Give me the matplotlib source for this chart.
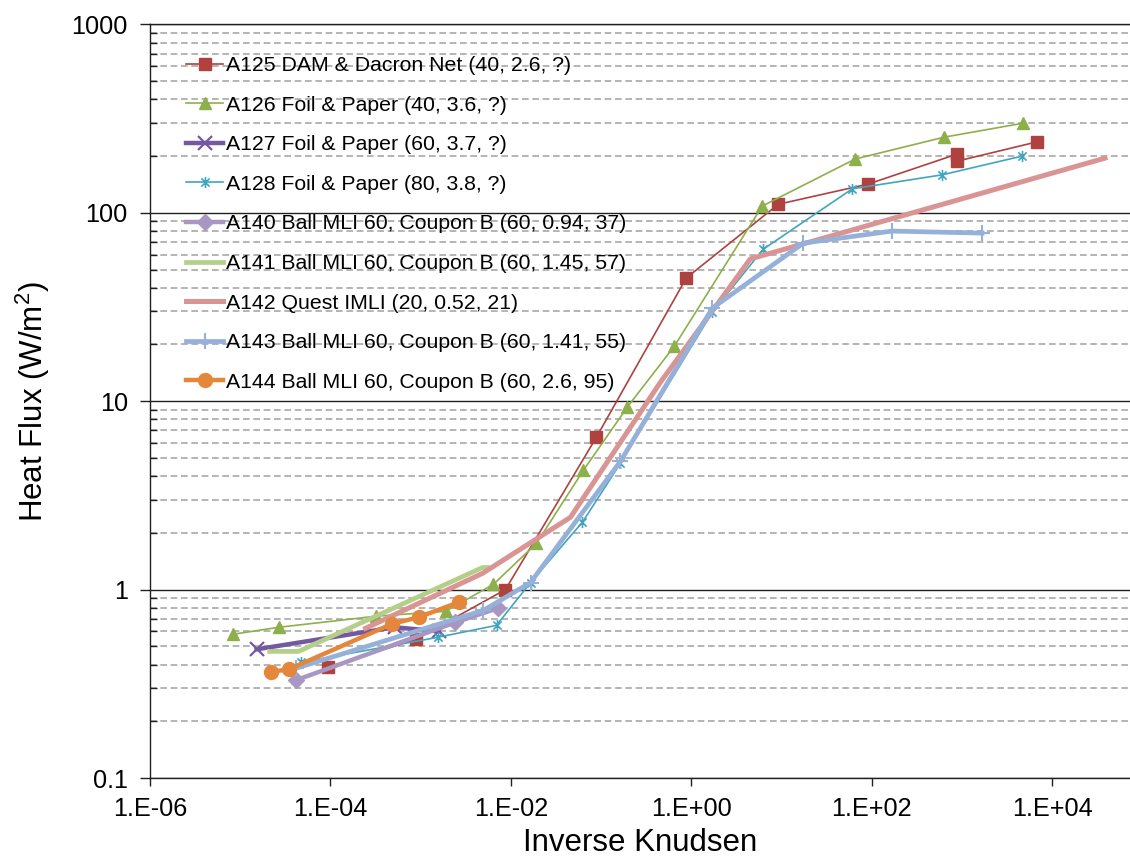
import matplotlib
matplotlib.use("Agg")
import matplotlib.pyplot as plt
from matplotlib.path import Path
from matplotlib.ticker import FixedLocator, NullLocator, NullFormatter

plt.rcParams['font.family'] = ['Liberation Sans', 'DejaVu Sans']
plt.rcParams['mathtext.fontset'] = 'custom'
plt.rcParams['mathtext.rm'] = 'Liberation Sans'
plt.rcParams['mathtext.it'] = 'Liberation Sans'

# ---- data: inverse Knudsen number vs. heat flux (W/m^2) ----
a125_x = [9.3e-5, 8.8e-4, 8.7e-3, 0.0887, 0.88, 9.2, 91, 883, 883, 6790]
a125_y = [0.387, 0.544, 1.0, 6.44, 45.1, 111, 142, 205, 188, 238]

a126_x = [8.26e-6, 2.67e-5, 3.17e-4, 1.89e-3, 6.41e-3, 0.0192, 0.0637, 0.195, 0.649, 6.11, 65.5, 634, 4750]
a126_y = [0.579, 0.631, 0.722, 0.767, 1.067, 1.76, 4.30, 9.30, 19.6, 108.6, 193, 252, 299]

a127_x = [1.52e-5, 5.14e-4, 1.58e-3]
a127_y = [0.482, 0.631, 0.601]

a128_x = [4.68e-5, 1.54e-3, 6.93e-3, 0.0165, 0.0621, 0.164, 1.71, 6.27, 60.7, 602, 4630]
a128_y = [0.411, 0.558, 0.646, 1.09, 2.28, 4.69, 29.7, 64.1, 134, 159, 200]

a140_x = [4.12e-5, 2.43e-3, 7.11e-3]
a140_y = [0.330, 0.670, 0.796]

a141_x = [2.12e-5, 4.44e-5, 4.85e-3, 5.5e-3]
a141_y = [0.470, 0.470, 1.31, 1.31]

a142_x = [2.45e-4, 4.85e-3, 0.0457, 0.454, 4.50, 38400]
a142_y = [0.623, 1.22, 2.42, 12.6, 56.9, 195]

a143_x = [4.12e-5, 4.97e-3, 0.0165, 0.164, 1.71, 17.4, 168, 1670]
a143_y = [0.382, 0.776, 1.09, 4.80, 31.2, 69.0, 80.0, 78.0]

a144_x = [2.18e-5, 3.44e-5, 4.82e-4, 9.48e-4, 2.63e-3]
a144_y = [0.366, 0.377, 0.658, 0.713, 0.856]

labels = [
    "A125 DAM & Dacron Net (40, 2.6, ?)",
    "A126 Foil & Paper (40, 3.6, ?)",
    "A127 Foil & Paper (60, 3.7, ?)",
    "A128 Foil & Paper (80, 3.8, ?)",
    "A140 Ball MLI 60, Coupon B (60, 0.94, 37)",
    "A141 Ball MLI 60, Coupon B (60, 1.45, 57)",
    "A142 Quest IMLI (20, 0.52, 21)",
    "A143 Ball MLI 60, Coupon B (60, 1.41, 55)",
    "A144 Ball MLI 60, Coupon B (60, 2.6, 95)",
]

x_ticks = [1e-6, 1e-4, 1e-2, 1e0, 1e2, 1e4]
x_ticklabels = ["1.E-06", "1.E-04", "1.E-02", "1.E+00", "1.E+02", "1.E+04"]
y_ticks = [0.1, 1, 10, 100, 1000]
y_ticklabels = ["0.1", "1", "10", "100", "1000"]

# asterisk marker: an "x" crossed by a vertical bar
ast = Path([(-1, -1), (1, 1), (-1, 1), (1, -1), (0, -1.35), (0, 1.35)],
           [Path.MOVETO, Path.LINETO, Path.MOVETO, Path.LINETO, Path.MOVETO, Path.LINETO])

series = [
    (a125_x, a125_y, dict(color='#AF413E', lw=1.2, marker='s', ms=8)),
    (a126_x, a126_y, dict(color='#8DB04B', lw=1.2, marker='^', ms=8)),
    (a127_x, a127_y, dict(color='#7459A0', lw=3.2, marker='x', ms=10, mew=1.6)),
    (a128_x, a128_y, dict(color='#40A5BF', lw=1.2, marker=ast, ms=8, mew=1.2)),
    (a140_x, a140_y, dict(color='#A797C2', lw=3.2, marker='D', ms=8)),
    (a141_x, a141_y, dict(color='#B5CF8A', lw=3.4, marker='None')),
    (a142_x, a142_y, dict(color='#D99493', lw=3.6, marker='None')),
    (a143_x, a143_y, dict(color='#95B0D9', lw=3.4, marker='+', ms=11, mew=1.5)),
    (a144_x, a144_y, dict(color='#E5873A', lw=3.2, marker='o', ms=10)),
]

fig = plt.figure(figsize=(11.30, 8.59), dpi=100)
ax = fig.add_axes([150 / 1130, 81 / 859, 980 / 1130, 753.6 / 859])
ax.set_xscale('log')
ax.set_yscale('log')
ax.set_xlim(1e-6, 10 ** 4.862)
ax.set_ylim(0.1, 1000)

for (xs, ys, st), lab in zip(series, labels):
    ax.plot(xs, ys, label=lab, solid_joinstyle='round', **st)

# gridlines
ax.yaxis.set_major_locator(FixedLocator(y_ticks))
minor = [m * 10 ** e for e in range(-1, 3) for m in range(2, 10)]
ax.yaxis.set_minor_locator(FixedLocator(minor))
ax.yaxis.set_minor_formatter(NullFormatter())
ax.set_yticklabels(y_ticklabels)
ax.xaxis.set_major_locator(FixedLocator(x_ticks))
ax.xaxis.set_minor_locator(NullLocator())
ax.set_xticklabels(x_ticklabels)

ax.grid(True, axis='y', which='major', color='#202020', lw=1.0, zorder=0)
ax.grid(True, axis='y', which='minor', color='#A8A8A8', lw=1.2,
        linestyle=(0, (4, 2.2)), zorder=0)
ax.grid(False, axis='x')
ax.set_axisbelow(True)

for s in ['right']:
    ax.spines[s].set_visible(False)
for s in ['left', 'bottom', 'top']:
    ax.spines[s].set_color('#202020')
    ax.spines[s].set_linewidth(1.0)

ax.tick_params(axis='y', which='major', direction='out', length=7, width=1,
               labelsize=18.2, pad=9, color='#202020')
ax.tick_params(axis='y', which='minor', direction='in', length=5, width=1,
               color='#202020')
ax.tick_params(axis='x', which='major', direction='out', length=6, width=1,
               labelsize=18.2, pad=8, color='#202020')

ax.set_xlabel("Inverse Knudsen", fontsize=22.5, labelpad=5)
ax.set_ylabel("Heat Flux (W/m$^2$)", fontsize=22.5, labelpad=14)

leg = ax.legend(loc='upper left', bbox_to_anchor=(186 / 1130, 1 - 56 / 859),
                bbox_transform=fig.transFigure, frameon=False, fontsize=15.3,
                borderpad=0, borderaxespad=0, labelspacing=0.97,
                handlelength=1.75, handletextpad=0.15, numpoints=1)

fig.savefig("out.png", dpi=100)
